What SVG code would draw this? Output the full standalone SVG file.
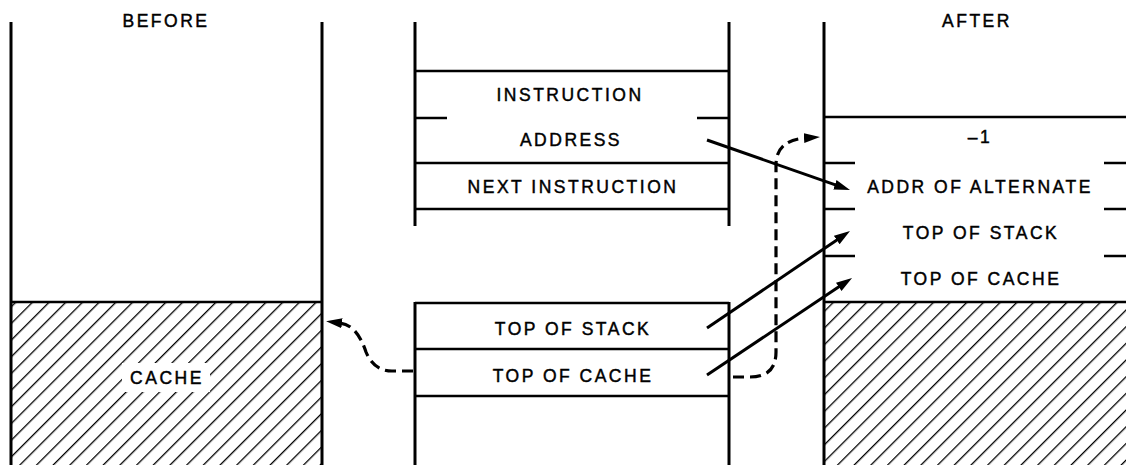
<svg xmlns="http://www.w3.org/2000/svg" width="1126" height="465" viewBox="0 0 1126 465">
<style>
.ln{stroke:#000;stroke-width:2.5;fill:none}
.vl{stroke:#000;stroke-width:3;fill:none}
.t{font-family:"Liberation Sans",Arial,sans-serif;font-size:17.5px;letter-spacing:2.5px;fill:#000;stroke:#000;stroke-width:0.45;text-anchor:middle}
.ar{stroke:#000;stroke-width:3;fill:none;marker-end:url(#ah)}
.da{stroke:#000;stroke-width:3.2;fill:none;stroke-dasharray:11 6;marker-end:url(#ah)}
</style>
<defs>
<pattern id="hatch" patternUnits="userSpaceOnUse" width="11.8" height="11.8" patternTransform="rotate(45)">
<line x1="0" y1="0" x2="0" y2="11.8" stroke="#000" stroke-width="2.6"/>
</pattern>
<marker id="ah" markerUnits="userSpaceOnUse" markerWidth="18" markerHeight="12" refX="2" refY="5" orient="auto" viewBox="0 0 18 12">
<path d="M0,0 L16,5 L0,10 z" fill="#000"/>
</marker>
</defs>
<rect width="1126" height="465" fill="#fff"/>

<g id="before">
<rect x="11" y="302" width="311" height="163" fill="url(#hatch)"/>
<line class="vl" x1="11" y1="22" x2="11" y2="465"/>
<line class="vl" x1="322" y1="22" x2="322" y2="465"/>
<line class="ln" x1="11" y1="302" x2="322" y2="302"/>
<text class="t" x="166" y="27">BEFORE</text>
<rect x="122" y="363" width="88" height="29" fill="#fff"/>
<text class="t" x="167" y="384">CACHE</text>
</g>

<g id="middle-top">
<line class="vl" x1="415" y1="22" x2="415" y2="226"/>
<line class="vl" x1="729" y1="22" x2="729" y2="226"/>
<line class="ln" x1="415" y1="71" x2="729" y2="71"/>
<line class="ln" x1="415" y1="118" x2="447" y2="118"/>
<line class="ln" x1="697" y1="118" x2="729" y2="118"/>
<line class="ln" x1="415" y1="163" x2="729" y2="163"/>
<line class="ln" x1="415" y1="209" x2="729" y2="209"/>
<text class="t" x="570" y="101">INSTRUCTION</text>
<text class="t" x="571" y="146">ADDRESS</text>
<text class="t" x="573" y="193">NEXT INSTRUCTION</text>
</g>

<g id="middle-bottom">
<line class="vl" x1="415" y1="302" x2="415" y2="465"/>
<line class="vl" x1="729" y1="302" x2="729" y2="465"/>
<line class="ln" x1="415" y1="303" x2="729" y2="303"/>
<line class="ln" x1="415" y1="349" x2="729" y2="349"/>
<line class="ln" x1="415" y1="396" x2="729" y2="396"/>
<text class="t" x="573" y="335">TOP OF STACK</text>
<text class="t" x="573" y="382">TOP OF CACHE</text>
</g>

<g id="after">
<rect x="824" y="302" width="302" height="163" fill="url(#hatch)"/>
<line class="vl" x1="824" y1="22" x2="824" y2="465"/>
<line class="ln" x1="824" y1="117" x2="1126" y2="117"/>
<line class="ln" x1="824" y1="163" x2="855" y2="163"/>
<line class="ln" x1="1104" y1="163" x2="1126" y2="163"/>
<line class="ln" x1="824" y1="209" x2="855" y2="209"/>
<line class="ln" x1="1104" y1="209" x2="1126" y2="209"/>
<line class="ln" x1="824" y1="256" x2="855" y2="256"/>
<line class="ln" x1="1104" y1="256" x2="1126" y2="256"/>
<line class="ln" x1="824" y1="302" x2="1126" y2="302"/>
<text class="t" x="977" y="27">AFTER</text>
<text class="t" x="980" y="143">–1</text>
<text class="t" x="980" y="193">ADDR OF ALTERNATE</text>
<text class="t" x="981" y="239">TOP OF STACK</text>
<text class="t" x="981" y="285">TOP OF CACHE</text>
</g>

<g id="connectors">
<line class="ar" x1="707" y1="140" x2="836.8" y2="185.4"/>
<line class="ar" x1="707" y1="328" x2="838.4" y2="238.9"/>
<line class="ar" x1="707" y1="375" x2="840.4" y2="285.8"/>
<path class="da" d="M733 377 L750 377 Q776 377 776 352 L776 165 Q776 140 806 138"/>
<path class="da" d="M413 371 L392 371 Q374 371 366 352 Q357 325 340 323"/>
</g>
</svg>
